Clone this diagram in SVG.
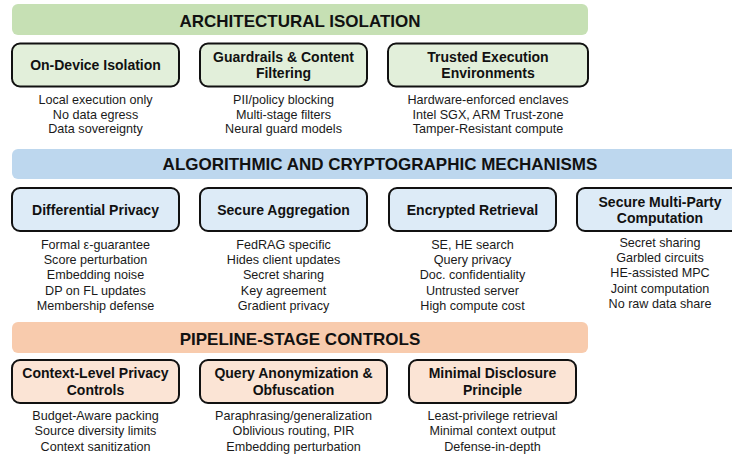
<svg xmlns="http://www.w3.org/2000/svg" width="732" height="455" viewBox="0 0 732 455">
<style>
text{font-family:"Liberation Sans",Arial,sans-serif;fill:#1a1a1a;text-anchor:middle}
.bt{font-size:17px;font-weight:bold;fill:#111}
.nt{font-size:14px;font-weight:bold;fill:#111}
.d{font-size:12.6px}
.node{stroke:#111;stroke-width:2}
.gb{fill:#c6e0b4}.gn{fill:#e2efda}
.bb{fill:#bdd7ee}.bn{fill:#ddebf7}
.ob{fill:#f8cbad}.on{fill:#fbe4d5}
</style>
<rect width="732" height="455" fill="#fff"/>

<g id="banner-arch">
<rect class="gb" x="12" y="4" width="576" height="31" rx="6"/>
<text class="bt" x="300" y="27">ARCHITECTURAL ISOLATION</text>
</g>
<g id="on-device">
<rect class="node gn" x="12" y="43.5" width="167" height="43" rx="8"/>
<text class="nt" x="95.5" y="70">On-Device Isolation</text>
<text class="d" x="95.5" y="104">Local execution only</text>
<text class="d" x="95.5" y="118.5">No data egress</text>
<text class="d" x="95.5" y="133">Data sovereignty</text>
</g>
<g id="guardrails">
<rect class="node gn" x="200" y="43.5" width="167" height="43" rx="8"/>
<text class="nt" x="283.5" y="62">Guardrails &amp; Content</text>
<text class="nt" x="283.5" y="78">Filtering</text>
<text class="d" x="283.5" y="104">PII/policy blocking</text>
<text class="d" x="283.5" y="118.5">Multi-stage filters</text>
<text class="d" x="283.5" y="133">Neural guard models</text>
</g>
<g id="tee">
<rect class="node gn" x="388" y="43.5" width="200" height="43" rx="8"/>
<text class="nt" x="488" y="62">Trusted Execution</text>
<text class="nt" x="488" y="78">Environments</text>
<text class="d" x="488" y="104">Hardware-enforced enclaves</text>
<text class="d" x="488" y="118.5">Intel SGX, ARM Trust-zone</text>
<text class="d" x="488" y="133">Tamper-Resistant compute</text>
</g>

<g id="banner-algo">
<rect class="bb" x="12" y="149" width="736" height="30" rx="6"/>
<text class="bt" x="380" y="170">ALGORITHMIC AND CRYPTOGRAPHIC MECHANISMS</text>
</g>
<g id="dp">
<rect class="node bn" x="12" y="188" width="167" height="43" rx="8"/>
<text class="nt" x="95.5" y="215">Differential Privacy</text>
<text class="d" x="95.5" y="248.5">Formal ε-guarantee</text>
<text class="d" x="95.5" y="264">Score perturbation</text>
<text class="d" x="95.5" y="279">Embedding noise</text>
<text class="d" x="95.5" y="294.5">DP on FL updates</text>
<text class="d" x="95.5" y="310">Membership defense</text>
</g>
<g id="secagg">
<rect class="node bn" x="200" y="188" width="167" height="43" rx="8"/>
<text class="nt" x="283.5" y="215">Secure Aggregation</text>
<text class="d" x="283.5" y="248.5">FedRAG specific</text>
<text class="d" x="283.5" y="264">Hides client updates</text>
<text class="d" x="283.5" y="279">Secret sharing</text>
<text class="d" x="283.5" y="294.5">Key agreement</text>
<text class="d" x="283.5" y="310">Gradient privacy</text>
</g>
<g id="encret">
<rect class="node bn" x="389" y="188" width="167" height="43" rx="8"/>
<text class="nt" x="472.5" y="215">Encrypted Retrieval</text>
<text class="d" x="472.5" y="248.5">SE, HE search</text>
<text class="d" x="472.5" y="264">Query privacy</text>
<text class="d" x="472.5" y="279">Doc. confidentiality</text>
<text class="d" x="472.5" y="294.5">Untrusted server</text>
<text class="d" x="472.5" y="310">High compute cost</text>
</g>
<g id="smpc">
<rect class="node bn" x="577" y="188" width="167" height="43" rx="8"/>
<text class="nt" x="660" y="207">Secure Multi-Party</text>
<text class="nt" x="660" y="223">Computation</text>
<text class="d" x="660" y="247">Secret sharing</text>
<text class="d" x="660" y="262">Garbled circuits</text>
<text class="d" x="660" y="277">HE-assisted MPC</text>
<text class="d" x="660" y="292.5">Joint computation</text>
<text class="d" x="660" y="307.5">No raw data share</text>
</g>

<g id="banner-pipe">
<rect class="ob" x="12" y="322" width="576" height="31" rx="6"/>
<text class="bt" x="300" y="344.5">PIPELINE-STAGE CONTROLS</text>
</g>
<g id="context">
<rect class="node on" x="12" y="360" width="167" height="43" rx="8"/>
<text class="nt" x="95.5" y="378">Context-Level Privacy</text>
<text class="nt" x="95.5" y="394.5">Controls</text>
<text class="d" x="95.5" y="420">Budget-Aware packing</text>
<text class="d" x="95.5" y="435">Source diversity limits</text>
<text class="d" x="95.5" y="450.5">Context sanitization</text>
</g>
<g id="query">
<rect class="node on" x="200" y="360" width="187" height="43" rx="8"/>
<text class="nt" x="293.5" y="378">Query Anonymization &amp;</text>
<text class="nt" x="293.5" y="394.5">Obfuscation</text>
<text class="d" x="293.5" y="420">Paraphrasing/generalization</text>
<text class="d" x="293.5" y="435">Oblivious routing, PIR</text>
<text class="d" x="293.5" y="450.5">Embedding perturbation</text>
</g>
<g id="minimal">
<rect class="node on" x="409" y="360" width="167" height="43" rx="8"/>
<text class="nt" x="492.5" y="378">Minimal Disclosure</text>
<text class="nt" x="492.5" y="394.5">Principle</text>
<text class="d" x="492.5" y="420">Least-privilege retrieval</text>
<text class="d" x="492.5" y="435">Minimal context output</text>
<text class="d" x="492.5" y="450.5">Defense-in-depth</text>
</g>
</svg>
